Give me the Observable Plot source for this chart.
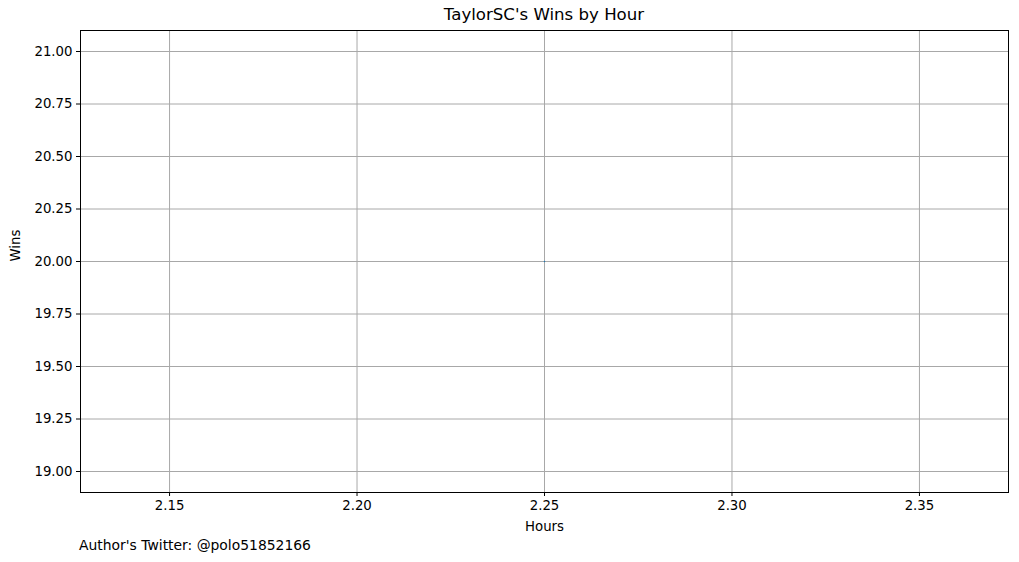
<!DOCTYPE html>
<html>
<head>
<meta charset="utf-8">
<script src="https://cdn.jsdelivr.net/npm/d3@7"></script>
<script src="https://cdn.jsdelivr.net/npm/@observablehq/plot@0.6"></script>
<style>
  body { margin: 0; background: #fff; font-family: "DejaVu Sans", sans-serif; }
  #wrap { position: relative; width: 1019px; height: 562px; }
  .lbl { position: absolute; color: #000; white-space: nowrap; }
</style>
</head>
<body>
<div id="wrap">
  <div id="chart"></div>
  <div class="lbl" style="left:0;width:1088px;top:5px;text-align:center;font-size:16.6px;">TaylorSC's Wins by Hour</div>
  <div class="lbl" style="left:79px;top:537px;font-size:13.9px;">Author's Twitter: @polo51852166</div>
</div>
<script>
// single data point, line with one point draws nothing (as in the source)
const hours = [2.25];
const wins = [20];
const xTicks = [2.15, 2.20, 2.25, 2.30, 2.35];
const yTicks = [19.00, 19.25, 19.50, 19.75, 20.00, 20.25, 20.50, 20.75, 21.00];

const data = hours.map((h, i) => ({hours: h, wins: wins[i]}));

const chart = Plot.plot({
  width: 1019,
  height: 562,
  marginTop: 30,
  marginBottom: 70,
  marginLeft: 80,
  marginRight: 11,
  style: {fontFamily: "DejaVu Sans, sans-serif", fontSize: "13.3px", color: "#000"},
  x: {domain: [2.12625, 2.37375]},
  y: {domain: [18.9, 21.1]},
  marks: [
    Plot.gridX(xTicks, {stroke: "#a8a8a8", strokeOpacity: 1, strokeWidth: 1}),
    Plot.gridY(yTicks, {stroke: "#a8a8a8", strokeOpacity: 1, strokeWidth: 1}),
    Plot.line(data, {x: "hours", y: "wins", stroke: "#1f77b4", strokeWidth: 1.5}),
    Plot.axisX(xTicks, {tickFormat: d3.format(".2f"), tickSize: 4, tickPadding: 4, label: null}),
    Plot.axisY(yTicks, {tickFormat: d3.format(".2f"), tickSize: 4, tickPadding: 4, label: null}),
    Plot.text(["Hours"], {frameAnchor: "bottom", dy: 38, fontSize: 13.3}),
    Plot.text(["Wins"], {frameAnchor: "left", dx: -65, rotate: -90, fontSize: 13.3}),
    Plot.frame({stroke: "#000", strokeWidth: 1})
  ]
});
document.getElementById("chart").append(chart);
</script>
</body>
</html>
